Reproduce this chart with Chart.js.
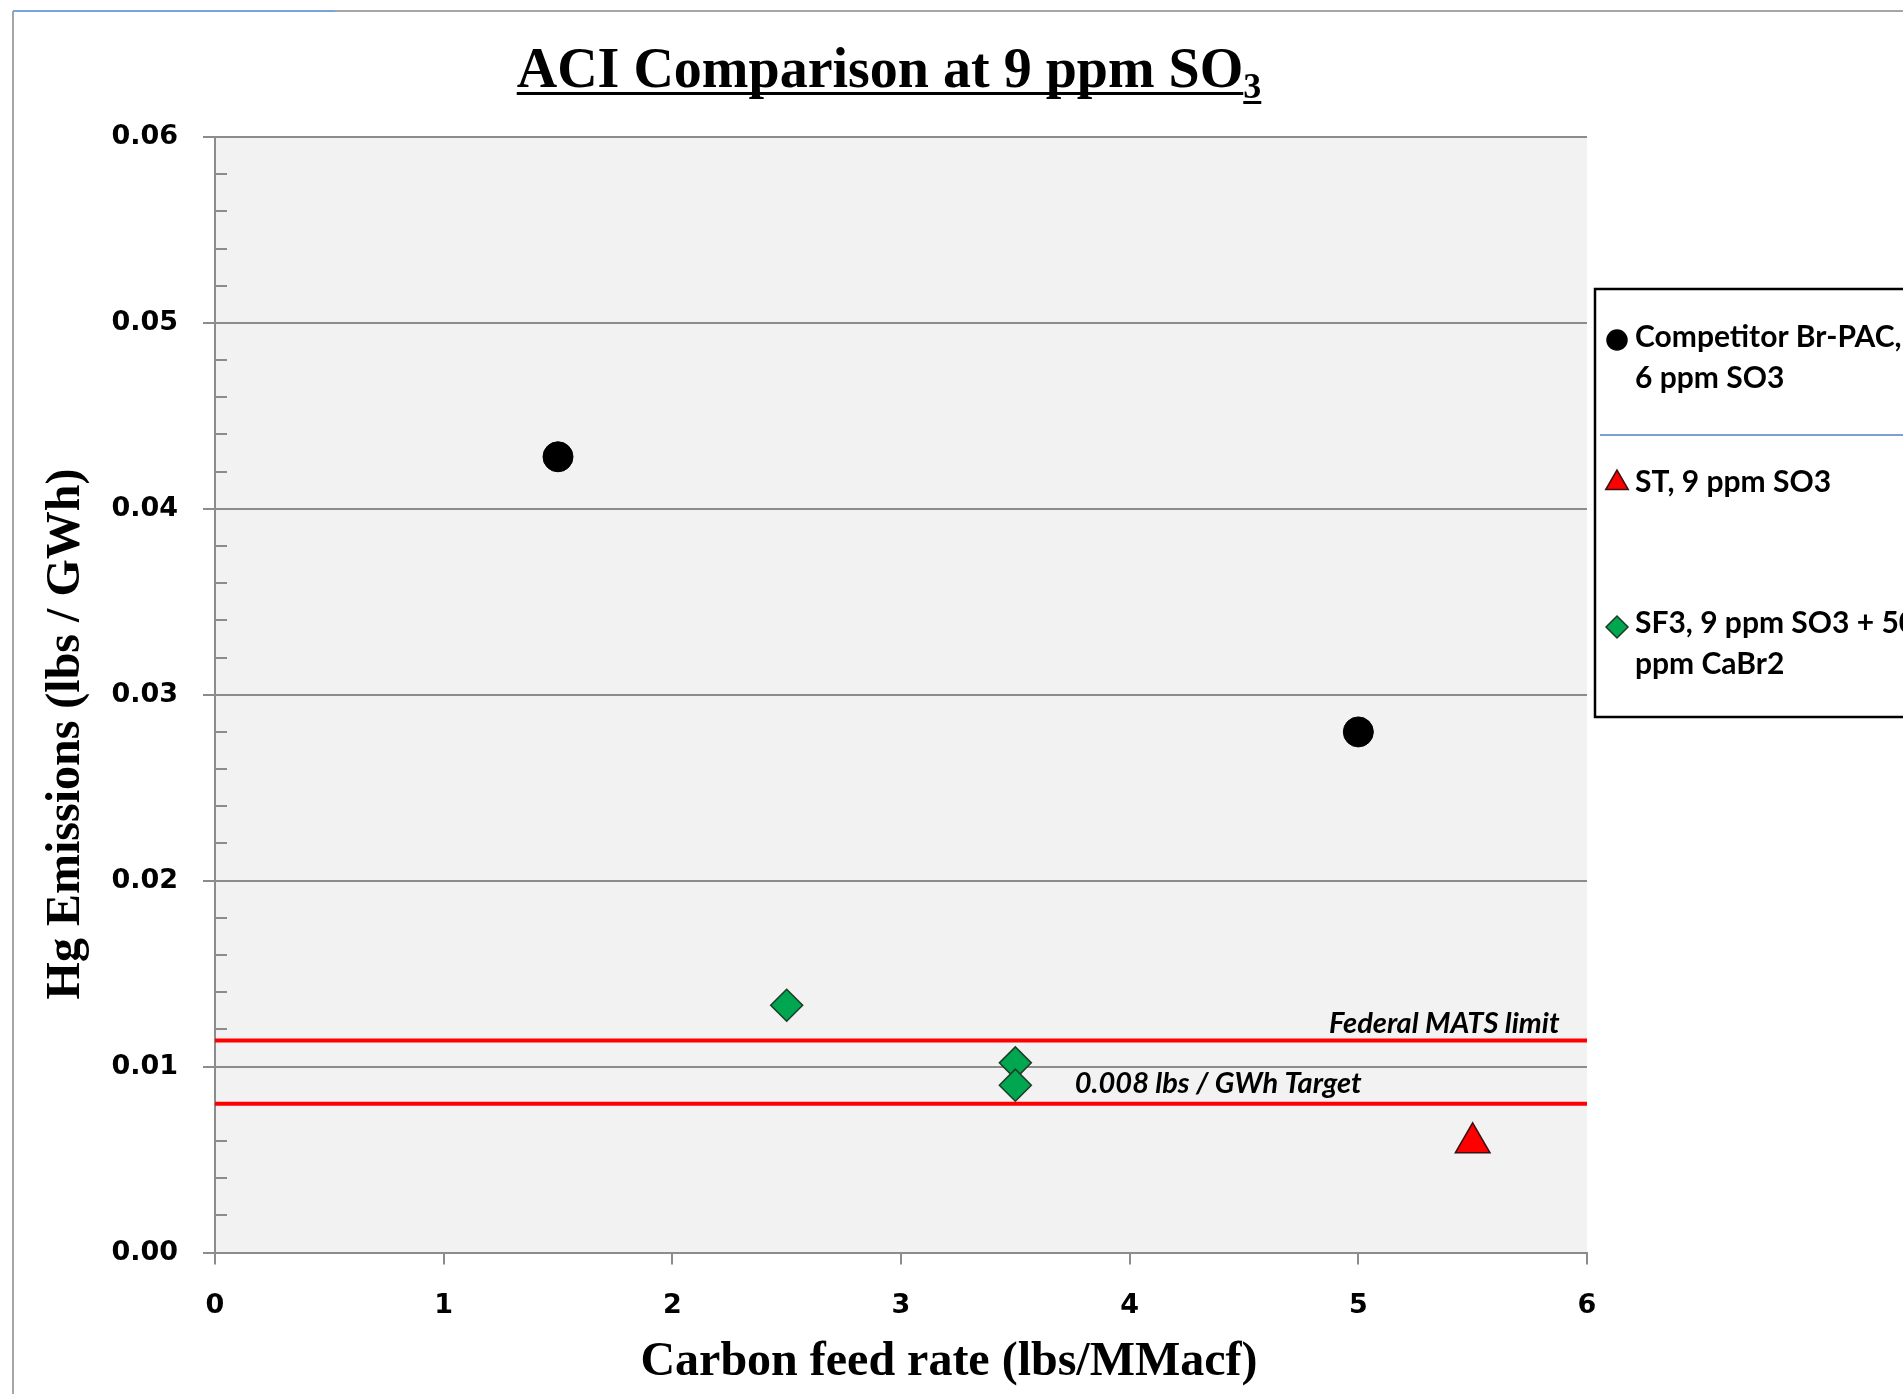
<!DOCTYPE html>
<html>
<head>
<meta charset="utf-8">
<title>ACI Comparison at 9 ppm SO3</title>
<script src="https://cdn.jsdelivr.net/npm/chart.js@4.4.0/dist/chart.umd.min.js"></script>
<style>
  html, body { margin: 0; padding: 0; background: #fff; }
  #wrap { width: 1903px; height: 1394px; position: relative; }
</style>
</head>
<body>
<div id="wrap"><canvas id="chart"></canvas></div>
<script>
// values
const competitorX = [1.5, 5.0];
const competitorY = [0.0428, 0.028];
const stX = [5.5];
const stY = [0.0059];
const sf3X = [2.5, 3.5, 3.5];
const sf3Y = [0.0133, 0.0102, 0.009];
const matsLimit = 0.0114;
const targetLevel = 0.008;

const seriesLabels = ['Competitor Br-PAC, 6 ppm SO3', 'ST, 9 ppm SO3', 'SF3, 9 ppm SO3 + 50 ppm CaBr2'];
const legendLines = [['Competitor Br-PAC,', '6 ppm SO3'], ['ST, 9 ppm SO3'], ['SF3, 9 ppm SO3 + 50', 'ppm CaBr2']];
const xTickValues = [0, 1, 2, 3, 4, 5, 6];
const yTickLabels = ['0.00', '0.01', '0.02', '0.03', '0.04', '0.05', '0.06'];
const minorStep = 0.002;

const GRID = '#8c8c8c';
const TICK_FONT = { family: 'DejaVu Sans', size: 27, weight: 'bold' };

function points(xs, ys) {
    return xs.map((x, i) => ({ x: x, y: ys[i] }));
}

const framePlugin = {
    id: 'frame',
    beforeDraw(chart) {
        const { ctx, chartArea: a } = chart;
        ctx.save();
        ctx.fillStyle = '#fff';
        ctx.fillRect(0, 0, chart.width, chart.height);
        ctx.fillStyle = '#f2f2f2';
        ctx.fillRect(a.left, a.top, a.right - a.left, a.bottom - a.top);
        ctx.lineWidth = 2;
        ctx.strokeStyle = '#a6a6a6';
        ctx.beginPath();
        ctx.moveTo(13, 11); ctx.lineTo(13, chart.height);
        ctx.moveTo(13, 11); ctx.lineTo(chart.width, 11);
        ctx.stroke();
        ctx.strokeStyle = '#7aa3da';
        ctx.beginPath();
        ctx.moveTo(13, 11); ctx.lineTo(335, 11);
        ctx.stroke();
        ctx.restore();
    }
};

// minor ticks inside the plot on the y axis
const minorTicksPlugin = {
    id: 'minorTicks',
    beforeDatasetsDraw(chart) {
        const { ctx, scales: { y } } = chart;
        ctx.save();
        ctx.strokeStyle = GRID;
        ctx.lineWidth = 2;
        ctx.beginPath();
        for (let k = 1; k < 30; k++) {
            if (k % 5 === 0) continue;
            const py = Math.round(y.getPixelForValue(k * minorStep));
            ctx.moveTo(y.right, py);
            ctx.lineTo(y.right + 12, py);
        }
        ctx.stroke();
        ctx.restore();
    }
};

const textPlugin = {
    id: 'texts',
    afterDraw(chart) {
        const { ctx, scales: { x, y } } = chart;
        ctx.save();
        ctx.fillStyle = '#000';
        ctx.strokeStyle = '#000';

        // title with subscript and underline
        const mainFont = 'bold 56px "Liberation Serif"';
        const subFont = 'bold 36px "Liberation Serif"';
        const main = 'ACI Comparison at 9 ppm SO';
        ctx.font = mainFont;
        const wMain = ctx.measureText(main).width;
        ctx.font = subFont;
        const wSub = ctx.measureText('3').width;
        const x0 = 889 - (wMain + wSub) / 2;
        ctx.textBaseline = 'alphabetic';
        ctx.textAlign = 'left';
        ctx.font = mainFont;
        ctx.fillText(main, x0, 87);
        ctx.font = subFont;
        ctx.fillText('3', x0 + wMain, 98);
        ctx.fillRect(x0, 92, wMain, 3);
        ctx.fillRect(x0 + wMain, 101, wSub, 3);

        // axis titles
        ctx.font = 'bold 48px "Liberation Serif"';
        ctx.textAlign = 'center';
        ctx.textBaseline = 'middle';
        ctx.fillText('Carbon feed rate (lbs/MMacf)', 949, 1363);
        ctx.save();
        ctx.translate(67, 734);
        ctx.rotate(-Math.PI / 2);
        ctx.fillText('Hg Emissions (lbs / GWh)', 0, 0);
        ctx.restore();

        // line annotations
        ctx.font = 'italic bold 29px Lato';
        ctx.textBaseline = 'alphabetic';
        ctx.textAlign = 'right';
        ctx.fillText('Federal MATS limit', x.getPixelForValue(5.88), y.getPixelForValue(matsLimit) - 8);
        ctx.textAlign = 'left';
        ctx.fillText('0.008 lbs / GWh Target', x.getPixelForValue(3.76), y.getPixelForValue(targetLevel) - 11);
        ctx.restore();
    }
};

const legendPlugin = {
    id: 'boxLegend',
    afterDraw(chart) {
        const { ctx } = chart;
        const left = 1595, top = 289, bottom = 717;
        ctx.save();
        ctx.fillStyle = '#fff';
        ctx.fillRect(left, top, chart.width - left + 10, bottom - top);
        ctx.strokeStyle = '#000';
        ctx.lineWidth = 2.5;
        ctx.strokeRect(left, top, chart.width - left + 10, bottom - top);
        ctx.strokeStyle = '#4f81bd';
        ctx.lineWidth = 1.5;
        ctx.beginPath();
        ctx.moveTo(1600, 435); ctx.lineTo(chart.width, 435);
        ctx.stroke();

        const markerY = [340, 483, 627];
        const baseY = [347, 492, 633];
        const sizes = [10, 13, 11];
        ctx.font = 'bold 30px Lato';
        ctx.textBaseline = 'alphabetic';
        ctx.textAlign = 'left';
        legendLines.forEach((lines, i) => {
            const ds = chart.data.datasets[i];
            ctx.fillStyle = ds.backgroundColor;
            ctx.strokeStyle = ds.borderColor;
            ctx.lineWidth = 1.5;
            Chart.helpers.drawPoint(ctx, { pointStyle: ds.pointStyle, radius: sizes[i], borderWidth: 1.5, rotation: 0 }, 1617, markerY[i]);
            ctx.fillStyle = '#000';
            lines.forEach((t, j) => ctx.fillText(t, 1635, baseY[i] + j * 41));
        });
        ctx.restore();
    }
};

const ctx = document.getElementById('chart');
new Chart(ctx, {
    type: 'scatter',
    data: {
        datasets: [
            {
                label: seriesLabels[0],
                data: points(competitorX, competitorY),
                pointStyle: 'circle',
                pointRadius: 15,
                backgroundColor: '#000',
                borderColor: '#000',
                borderWidth: 1
            },
            {
                label: seriesLabels[1],
                data: points(stX, stY),
                pointStyle: 'triangle',
                pointRadius: 20,
                backgroundColor: '#ff0000',
                borderColor: '#3b1010',
                borderWidth: 1.5
            },
            {
                label: seriesLabels[2],
                data: points(sf3X, sf3Y),
                pointStyle: 'rectRot',
                pointRadius: 16,
                backgroundColor: '#00a650',
                borderColor: '#1d3b25',
                borderWidth: 1.5
            },
            {
                label: 'Federal MATS limit',
                type: 'line',
                data: [{ x: 0, y: matsLimit }, { x: 6, y: matsLimit }],
                borderColor: '#ff0000',
                borderWidth: 4,
                pointRadius: 0
            },
            {
                label: '0.008 lbs / GWh Target',
                type: 'line',
                data: [{ x: 0, y: targetLevel }, { x: 6, y: targetLevel }],
                borderColor: '#ff0000',
                borderWidth: 4,
                pointRadius: 0
            }
        ]
    },
    options: {
        responsive: true,
        maintainAspectRatio: false,
        animation: false,
        layout: { padding: { left: 0, right: 316, top: 137, bottom: 0 } },
        plugins: {
            legend: { display: false },
            tooltip: { enabled: false }
        },
        scales: {
            x: {
                type: 'linear',
                min: 0,
                max: 6,
                afterBuildTicks: (scale) => { scale.ticks = xTickValues.map(v => ({ value: v })); },
                afterFit: (scale) => { scale.height = 141.5; },
                ticks: {
                    color: '#000',
                    font: TICK_FONT,
                    padding: 25,
                    callback: (v) => String(v)
                },
                grid: { drawOnChartArea: false, drawTicks: true, tickLength: 12, color: GRID, lineWidth: 2 },
                border: { display: true, color: GRID, width: 2 }
            },
            y: {
                type: 'linear',
                min: 0,
                max: 0.06,
                afterBuildTicks: (scale) => { scale.ticks = yTickLabels.map(v => ({ value: parseFloat(v) })); },
                afterFit: (scale) => { scale.width = 215; },
                ticks: {
                    color: '#000',
                    font: TICK_FONT,
                    padding: 25,
                    callback: (v, i) => yTickLabels[i]
                },
                grid: { drawTicks: true, tickLength: 12, color: GRID, lineWidth: 2 },
                border: { display: true, color: GRID, width: 2 }
            }
        }
    },
    plugins: [framePlugin, minorTicksPlugin, textPlugin, legendPlugin]
});
</script>
</body>
</html>
